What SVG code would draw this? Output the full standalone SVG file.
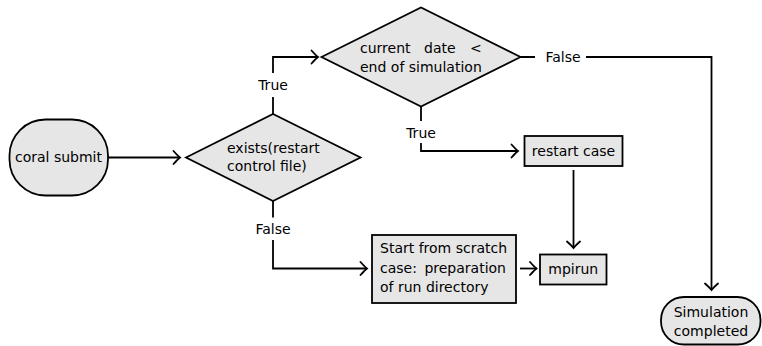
<svg xmlns="http://www.w3.org/2000/svg" width="762" height="346" viewBox="0 0 762 346">
<style>
.node{fill:#e6e6e6;stroke:#000;stroke-width:1.8}
.t{font-family:"DejaVu Sans",sans-serif;font-size:14px;fill:#000}
.c{text-anchor:middle}
.conn{fill:none;stroke:#000;stroke-width:1.8}
</style>
<defs>
<marker id="arr" viewBox="-9 -8 11 16" markerWidth="11" markerHeight="16" refX="0" refY="0" orient="auto" markerUnits="userSpaceOnUse">
<path d="M-6.5,-6.5 Q-2,-1.5 0,0 Q-2,1.5 -6.5,6.5" fill="none" stroke="#000" stroke-width="1.8" stroke-linecap="round"/>
</marker>
</defs>
<rect width="762" height="346" fill="#fff"/>
<g id="coral">
<rect class="node" x="9.5" y="119.5" width="98.5" height="76" rx="36" ry="36"/>
<text class="t c" x="58.5" y="162">coral submit</text>
</g>
<g id="exists">
<polygon class="node" points="186,157.5 273,114 360.5,157.5 273,201"/>
<text class="t" x="227" y="153">exists(restart</text>
<text class="t" x="227" y="171">control file)</text>
</g>
<g id="date">
<polygon class="node" points="321.5,57 421,7.5 520.5,57 421,106.5"/>
<text class="t" y="53"><tspan x="360">current</tspan><tspan x="424">date</tspan><tspan x="470">&lt;</tspan></text>
<text class="t" x="360" y="72">end of simulation</text>
</g>
<g id="restart">
<rect class="node" x="524.5" y="136" width="98" height="30"/>
<text class="t c" x="573.5" y="156">restart case</text>
</g>
<g id="scratch">
<rect class="node" x="372" y="235" width="144" height="68"/>
<text class="t" x="380" y="253">Start from scratch</text>
<text class="t" x="380" y="273">case:</text>
<text class="t" x="506" y="273" text-anchor="end">preparation</text>
<text class="t" x="380" y="291.5">of run directory</text>
</g>
<g id="mpirun">
<rect class="node" x="540" y="254.5" width="66.5" height="30"/>
<text class="t c" x="573.3" y="274">mpirun</text>
</g>
<g id="completed">
<rect class="node" x="661" y="297" width="99.5" height="47.5" rx="23" ry="23"/>
<text class="t c" x="711" y="317">Simulation</text>
<text class="t c" x="711" y="335.5">completed</text>
</g>
<g id="connectors">
<path class="conn" d="M108,157.5 H180" marker-end="url(#arr)"/>
<path class="conn" d="M273,114 V97 M273,73 V57 H318" marker-end="url(#arr)"/>
<text class="t c" x="273" y="89.5">True</text>
<path class="conn" d="M273,201 V217.5 M273,240 V268.5 H367" marker-end="url(#arr)"/>
<text class="t c" x="273" y="234">False</text>
<path class="conn" d="M520.5,57 H535 M586,57 H711.5 V290" marker-end="url(#arr)"/>
<text class="t c" x="563" y="62">False</text>
<path class="conn" d="M421,106.5 V121 M421,143 V151 H518" marker-end="url(#arr)"/>
<text class="t c" x="421" y="138">True</text>
<path class="conn" d="M573.5,170 V248" marker-end="url(#arr)"/>
<path class="conn" d="M520,268.5 H536.5" marker-end="url(#arr)"/>
</g>
</svg>
